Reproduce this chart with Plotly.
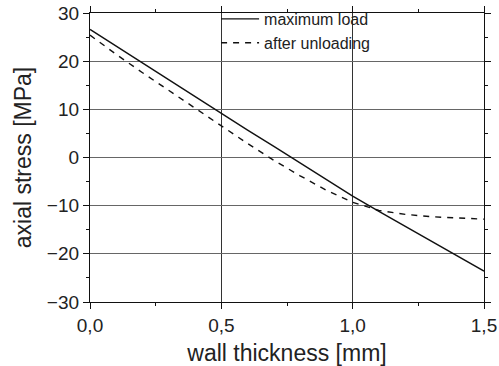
import plotly.graph_objects as go

# wall thickness positions [mm]
thickness = [0.0, 0.1, 0.2, 0.3, 0.4, 0.5, 0.6, 0.7, 0.8, 0.9, 1.0, 1.1, 1.2, 1.3, 1.4, 1.5]
# axial stress at maximum load [MPa]
stress_max_load = [26.6, 23.1, 19.6, 16.1, 12.6, 9.2, 5.7, 2.3, -1.1, -4.6, -8.0, -11.2, -14.3, -17.4, -20.5, -23.6]
# axial stress after unloading [MPa]
stress_unloaded = [25.4, 21.4, 17.6, 13.9, 10.2, 6.5, 2.9, -0.6, -3.8, -6.8, -9.3, -11.0, -11.8, -12.3, -12.6, -12.8]

x_ticks = [0.0, 0.5, 1.0, 1.5]
y_ticks = [-30, -20, -10, 0, 10, 20, 30]

FONT = "Liberation Sans, Arial, sans-serif"
TEXT = "#222222"

fig = go.Figure()
fig.add_trace(go.Scatter(
    x=thickness, y=stress_max_load, mode="lines", name="maximum load",
    line=dict(color="#111111", width=1.4),
))
fig.add_trace(go.Scatter(
    x=thickness, y=stress_unloaded, mode="lines", name="after unloading",
    line=dict(color="#111111", width=1.4, dash="6px,6px"),
))

axis_common = dict(
    showline=True, linecolor="#111111", linewidth=1.3, mirror="ticks",
    ticks="outside", ticklen=6, tickwidth=1.3, tickcolor="#111111",
    tickfont=dict(family=FONT, size=19, color=TEXT),
    zeroline=False, showgrid=True, gridwidth=1.2, automargin=False,
)

fig.update_xaxes(
    range=[0, 1.5], tickvals=x_ticks, tickformat=".1f",
    gridcolor="#333333",
    minor=dict(dtick=0.25, ticks="outside", ticklen=3, tickcolor="#111111", showgrid=False),
    title=dict(text="wall thickness [mm]", font=dict(family=FONT, size=23, color=TEXT), standoff=10),
    **axis_common,
)
fig.update_yaxes(
    range=[-30, 30], tickvals=y_ticks,
    gridcolor="#666666",
    minor=dict(dtick=5, ticks="outside", ticklen=3, tickcolor="#111111", showgrid=False),
    title=dict(text="axial stress [MPa]", font=dict(family=FONT, size=23, color=TEXT), standoff=8),
    **axis_common,
)

fig.update_layout(
    width=499, height=366,
    margin=dict(l=90, r=15, t=13, b=64, autoexpand=False),
    paper_bgcolor="white", plot_bgcolor="white",
    separators=",.",
    showlegend=True,
    legend=dict(
        x=0.32, y=1.038, xanchor="left", yanchor="top",
        bgcolor="rgba(0,0,0,0)", borderwidth=0,
        font=dict(family=FONT, size=16, color=TEXT),
        itemwidth=38, tracegroupgap=0,
    ),
)

fig.write_html("out.html")
